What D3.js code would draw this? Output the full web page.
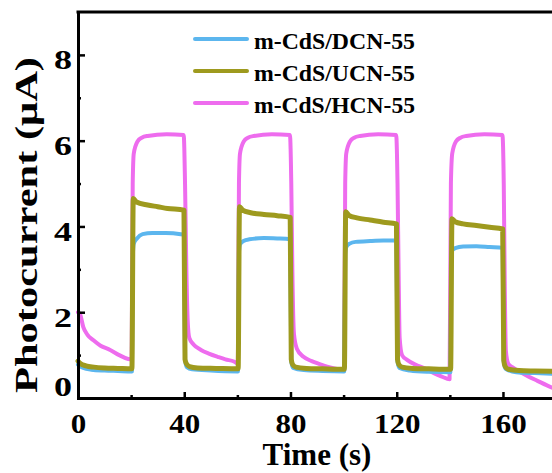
<!DOCTYPE html>
<html>
<head>
<meta charset="utf-8">
<script src="https://cdn.jsdelivr.net/npm/d3@7"></script>
<style>
  html, body { margin: 0; padding: 0; background: #fff; }
  svg { display: block; }
  text { font-family: "Liberation Serif", "Times New Roman", serif; font-weight: bold; fill: #000; }
</style>
</head>
<body>
<svg id="chart" width="552" height="473"></svg>
<script>
// Transient photocurrent response, light on/off every 20 s
const seriesNames = ["m-CdS/DCN-55", "m-CdS/UCN-55", "m-CdS/HCN-55"];
const seriesColors = ["#5cb6ee", "#9e9a1e", "#ee6cee"];

// [time (s), photocurrent (µA)]
const dcn = [
  [0, 0.78], [2, 0.7], [5, 0.66], [10, 0.64], [15, 0.63], [20.3, 0.62],
  [20.7, 3.4], [21.0, 3.6], [22.2, 3.72], [24.3, 3.82], [28, 3.85], [33, 3.85], [38.7, 3.82], [39.9, 3.8],
  [40.3, 0.9], [41, 0.72], [43, 0.67], [50, 0.64], [60.2, 0.62],
  [60.6, 3.4], [61.0, 3.58], [62.3, 3.66], [64.5, 3.7], [70, 3.73], [75, 3.72], [79.9, 3.7],
  [80.3, 0.85], [81, 0.7], [85, 0.65], [92, 0.63], [100.2, 0.62],
  [100.6, 3.35], [101.0, 3.52], [102.3, 3.6], [104.5, 3.64], [110, 3.66], [115, 3.67], [119.9, 3.67],
  [120.3, 0.85], [121, 0.7], [125, 0.64], [132, 0.61], [140.2, 0.6],
  [140.6, 3.3], [141.0, 3.45], [142.3, 3.5], [145, 3.53], [150, 3.54], [155, 3.52], [159.9, 3.5],
  [160.3, 0.85], [161, 0.68], [165, 0.6], [172, 0.58], [182, 0.56]
];

const ucn = [
  [0, 0.86], [1, 0.8], [3, 0.75], [6, 0.72], [10, 0.7], [15, 0.69], [20.3, 0.68],
  [20.8, 4.65], [22, 4.57], [26.2, 4.5], [30, 4.46], [33.7, 4.42], [39.9, 4.38],
  [40.3, 0.9], [40.8, 0.8], [42, 0.73], [45, 0.7], [52, 0.69], [60.3, 0.68],
  [60.8, 4.46], [62, 4.38], [65, 4.32], [70, 4.28], [75, 4.25], [79.9, 4.21],
  [80.3, 0.9], [80.8, 0.78], [82, 0.72], [86, 0.69], [92, 0.68], [100.3, 0.67],
  [100.8, 4.34], [102, 4.26], [105, 4.2], [110, 4.15], [115, 4.1], [119.9, 4.06],
  [120.3, 0.9], [120.8, 0.78], [122, 0.72], [126, 0.69], [132, 0.68], [140.3, 0.67],
  [140.8, 4.18], [142, 4.11], [145, 4.06], [150, 4.02], [155, 3.98], [159.9, 3.94],
  [160.3, 0.88], [160.8, 0.74], [162, 0.67], [166, 0.64], [172, 0.63], [182, 0.62]
];

const hcn = [
  [0, 2.0], [0.8, 1.95], [2, 1.65], [3.5, 1.48], [5.7, 1.35], [8.5, 1.22], [12.1, 1.12], [15.5, 1.0], [18.9, 0.91], [20.2, 0.9],
  [20.6, 5.0], [21.0, 5.7], [22.4, 5.98], [24, 6.07], [26.2, 6.11], [33.4, 6.15], [39.8, 6.13],
  [40.3, 5.0], [40.8, 3.0], [41.3, 1.8], [41.9, 1.4], [43.5, 1.25], [46.3, 1.12], [49.5, 1.03], [52.6, 0.96], [55.5, 0.9], [58.7, 0.85], [60.2, 0.8],
  [60.6, 5.0], [61.0, 5.7], [62.4, 5.98], [64, 6.07], [66.2, 6.11], [73, 6.15], [79.8, 6.13],
  [80.3, 5.0], [80.7, 3.0], [81.3, 1.5], [82.4, 1.15], [84.9, 0.96], [88, 0.86], [91, 0.79], [93.8, 0.73], [98.1, 0.67], [100.2, 0.64],
  [100.6, 5.0], [101.0, 5.7], [102.4, 5.98], [104, 6.07], [106.2, 6.11], [113, 6.15], [119.8, 6.13],
  [120.3, 5.0], [120.7, 3.0], [121.1, 1.4], [122, 1.0], [123.9, 0.89], [127, 0.78], [130.5, 0.69], [134, 0.58], [137, 0.5], [139.9, 0.44],
  [140.4, 5.0], [140.9, 5.7], [142.3, 5.98], [144, 6.07], [146.2, 6.11], [153, 6.15], [159.8, 6.13],
  [160.3, 5.0], [160.7, 2.5], [161.1, 1.1], [162, 0.8], [163.5, 0.72], [165.2, 0.65], [169, 0.52], [173, 0.4], [177.8, 0.26], [182, 0.17]
];

const xTicks = [0, 40, 80, 120, 160];
const xMinorTicks = [20, 60, 100, 140];
const yTicks = [0, 2, 4, 6, 8];
const yMinorTicks = [1, 3, 5, 7];

const svg = d3.select("#chart");
const plotLeft = 78, plotBottom = 398, plotTop = 12;

const x = d3.scaleLinear().domain([0, 180]).range([plotLeft, plotLeft + 180 * 2.656]);
const y = d3.scaleLinear().domain([0, 9]).range([plotBottom, plotTop]);

const line = d3.line()
  .x(d => x(d[0]))
  .y(d => y(d[1]))
  .curve(d3.curveMonotoneX);

const plot = svg.append("g");

// Stacking order: HCN underneath, then DCN, UCN on top
const drawOrder = [
  { data: hcn, color: seriesColors[2], width: 4 },
  { data: dcn, color: seriesColors[0], width: 4 },
  { data: ucn, color: seriesColors[1], width: 5 }
];
drawOrder.forEach(s => {
  plot.append("path")
    .datum(s.data)
    .attr("d", line)
    .attr("fill", "none")
    .attr("stroke", s.color)
    .attr("stroke-width", s.width)
    .attr("stroke-linejoin", "round")
    .attr("stroke-linecap", "round");
});

// Axes with inward ticks
const gx = svg.append("g").attr("transform", `translate(0,${plotBottom})`)
  .call(d3.axisBottom(x).tickValues(xTicks).tickSize(-6).tickSizeOuter(0).tickPadding(10));
const gxMinor = svg.append("g").attr("transform", `translate(0,${plotBottom})`)
  .call(d3.axisBottom(x).tickValues(xMinorTicks).tickSize(-3).tickSizeOuter(0).tickFormat(""));
const gy = svg.append("g").attr("transform", `translate(${plotLeft},0)`)
  .call(d3.axisLeft(y).tickValues(yTicks).tickSize(-7).tickSizeOuter(0).tickPadding(6));
const gyMinor = svg.append("g").attr("transform", `translate(${plotLeft},0)`)
  .call(d3.axisLeft(y).tickValues(yMinorTicks).tickSize(-3).tickSizeOuter(0).tickFormat(""));

[gx, gxMinor, gy, gyMinor].forEach(g => {
  g.select(".domain").attr("stroke", "#000").attr("stroke-width", 3).attr("stroke-linecap", "square");
  g.selectAll(".tick line").attr("stroke", "#000").attr("stroke-width", 2.5);
});
gxMinor.select(".domain").remove();
gyMinor.select(".domain").remove();

gx.selectAll(".tick text")
  .attr("font-size", 27)
  .attr("y", 35)
  .attr("dy", null)
  .attr("textLength", d => String(d).length * 15.5)
  .attr("lengthAdjust", "spacingAndGlyphs");

gy.selectAll(".tick text")
  .attr("font-size", 27)
  .attr("dy", null)
  .attr("y", d => d === 0 ? -3 : 14)
  .attr("textLength", 18)
  .attr("lengthAdjust", "spacingAndGlyphs");

// Top frame line
svg.append("line")
  .attr("x1", plotLeft).attr("x2", x(180))
  .attr("y1", plotTop).attr("y2", plotTop)
  .attr("stroke", "#000").attr("stroke-width", 3).attr("stroke-linecap", "square");

// Axis titles
svg.append("text")
  .attr("x", 317).attr("y", 465)
  .attr("text-anchor", "middle")
  .attr("font-size", 31)
  .text("Time (s)");

svg.append("text")
  .attr("transform", "translate(37,225) rotate(-90)")
  .attr("text-anchor", "middle")
  .attr("font-size", 31)
  .attr("textLength", 336)
  .attr("lengthAdjust", "spacingAndGlyphs")
  .text("Photocurrent (μA)");

// Legend
const legend = svg.append("g");
seriesNames.forEach((name, i) => {
  const yy = 39 + i * 32;
  legend.append("line")
    .attr("x1", 195).attr("x2", 247)
    .attr("y1", yy).attr("y2", yy)
    .attr("stroke", seriesColors[i])
    .attr("stroke-width", 4)
    .attr("stroke-linecap", "round");
  legend.append("text")
    .attr("x", 254).attr("y", yy + 10)
    .attr("font-size", 23)
    .attr("textLength", 161)
    .attr("lengthAdjust", "spacingAndGlyphs")
    .text(name);
});
</script>
</body>
</html>
